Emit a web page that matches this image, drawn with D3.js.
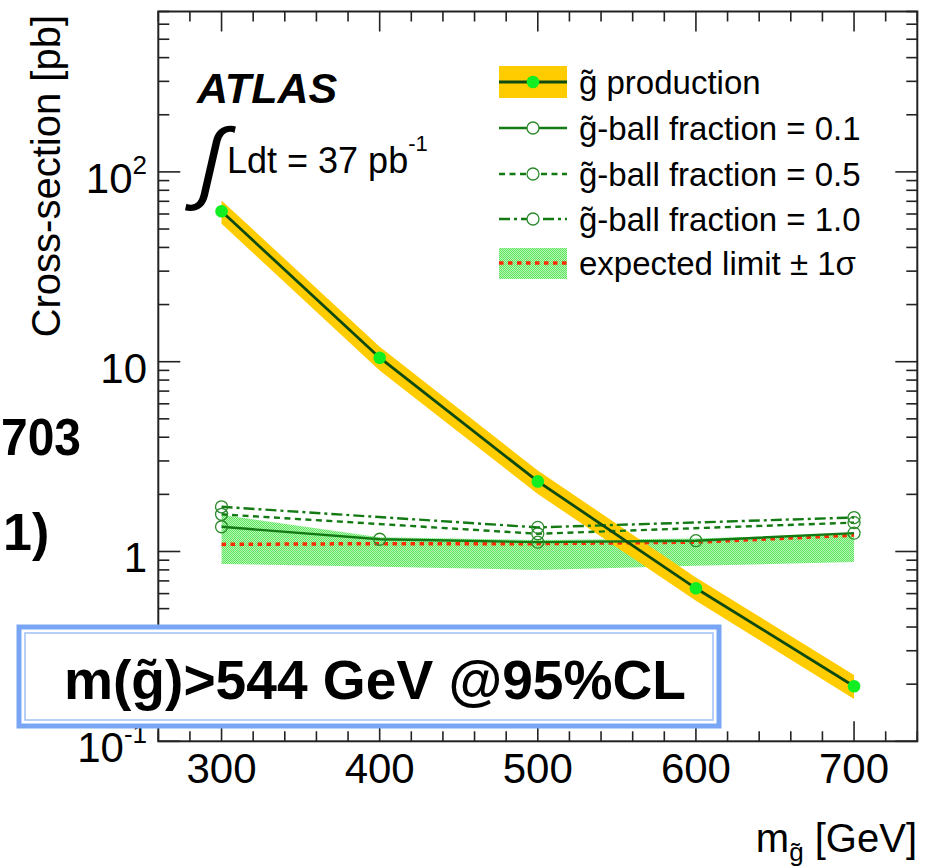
<!DOCTYPE html>
<html>
<head>
<meta charset="utf-8">
<script src="https://cdn.jsdelivr.net/npm/d3@7"></script>
<style>
  html, body { margin: 0; padding: 0; background: #fff; }
  svg { display: block; }
  text { font-family: "Liberation Sans", Arial, Helvetica, sans-serif; fill: #000; }
</style>
</head>
<body>
<script>
// Gluino pair production cross-section vs. gluino mass, with R-hadron limits
const masses = [300, 400, 500, 600, 700];
const gluinoXsec = [62, 10.5, 2.34, 0.64, 0.195];
const gluinoXsecUp = [70.7, 12.0, 2.67, 0.73, 0.2235];
const gluinoXsecDown = [53.3, 9.0, 2.01, 0.55, 0.167];

// Observed limits for different gluino-ball fractions
const ball01Masses = [300, 400, 500, 600, 700];
const ball01 = [1.35, 1.16, 1.12, 1.14, 1.25];
const ballMasses = [300, 500, 700];
const ball05 = [1.57, 1.24, 1.42];
const ball10 = [1.72, 1.34, 1.51];

// Expected limit with its +-1 sigma band
const expected = [1.09, 1.10, 1.10, 1.12, 1.22];
const expectedUp = [1.56, 1.19, 1.15, 1.17, 1.24];
const expectedDown = [0.86, 0.83, 0.80, 0.84, 0.88];

// Axis ticks
const xTicks = [300, 400, 500, 600, 700];
const yMajorTicks = [0.1, 1, 10, 100];
const yTickBase = ["10", "1", "10", "10"];
const yTickSup = ["-1", "", "", "2"];

const W = 928, H = 868;
const svg = d3.select("body").append("svg").attr("width", W).attr("height", H);

const defs = svg.append("defs");
const pat = defs.append("pattern").attr("id", "bandFill")
  .attr("width", 2).attr("height", 2).attr("patternUnits", "userSpaceOnUse");
pat.append("rect").attr("width", 2).attr("height", 2).attr("fill", "#b6f9b6");
pat.append("rect").attr("width", 1).attr("height", 1).attr("fill", "#5fe35f");
pat.append("rect").attr("x", 1).attr("y", 1).attr("width", 1).attr("height", 1).attr("fill", "#5fe35f");

const frame = { left: 158.3, right: 917.3, top: 11.5, bottom: 741.3 };
const x = d3.scaleLinear().domain([260, 740]).range([frame.left, frame.right]);
const y = d3.scaleLog().domain([0.1, 700]).range([frame.bottom, frame.top]);

const plot = svg.append("g");

// expected +-1 sigma band
const bandArea = d3.area()
  .x((d, i) => x(masses[i]))
  .y0((d, i) => y(expectedDown[i]))
  .y1((d, i) => y(expectedUp[i]));
plot.append("path").datum(masses).attr("d", bandArea).attr("fill", "url(#bandFill)");

// gluino production uncertainty band
const xsArea = d3.area()
  .x((d, i) => x(masses[i]))
  .y0((d, i) => y(gluinoXsecDown[i]))
  .y1((d, i) => y(gluinoXsecUp[i]));
plot.append("path").datum(masses).attr("d", xsArea).attr("fill", "#ffcc00");

// expected limit
const line = (xs, ys) => d3.line().x((d, i) => x(xs[i])).y((d, i) => y(ys[i]))(xs);
plot.append("path").attr("d", line(masses, expected))
  .attr("fill", "none").attr("stroke", "#ff2a00").attr("stroke-width", 3.5)
  .attr("stroke-dasharray", "4.5,4.5");

// gluino-ball fraction limits
const ballColor = "#137a13";
const ballSeries = [
  { xs: ball01Masses, ys: ball01, dash: null },
  { xs: ballMasses, ys: ball05, dash: "6,4.5" },
  { xs: ballMasses, ys: ball10, dash: "11,4,3,4" }
];
ballSeries.forEach(s => {
  plot.append("path").attr("d", line(s.xs, s.ys))
    .attr("fill", "none").attr("stroke", ballColor).attr("stroke-width", 2.4)
    .attr("stroke-dasharray", s.dash);
  plot.selectAll(null).data(s.xs).enter().append("circle")
    .attr("cx", d => x(d)).attr("cy", (d, i) => y(s.ys[i])).attr("r", 6)
    .attr("fill", "none").attr("stroke", "#2a8a2a").attr("stroke-width", 1.3);
});

// gluino production
plot.append("path").attr("d", line(masses, gluinoXsec))
  .attr("fill", "none").attr("stroke", "#0d4a12").attr("stroke-width", 2.8);
plot.selectAll(null).data(masses).enter().append("circle")
  .attr("cx", d => x(d)).attr("cy", (d, i) => y(gluinoXsec[i])).attr("r", 6.3)
  .attr("fill", "#11ee22");

// frame and ticks
const axisColor = "#222";
const ax = svg.append("g").attr("stroke", axisColor).attr("stroke-width", 1.6);
ax.append("rect").attr("x", frame.left).attr("y", frame.top)
  .attr("width", frame.right - frame.left).attr("height", frame.bottom - frame.top)
  .attr("fill", "none").attr("stroke-width", 2);

const xMinor = d3.range(260, 741, 20);
xMinor.forEach(v => {
  const len = v % 100 === 0 ? 20 : 10;
  ax.append("line").attr("x1", x(v)).attr("x2", x(v)).attr("y1", frame.bottom).attr("y2", frame.bottom - len);
  ax.append("line").attr("x1", x(v)).attr("x2", x(v)).attr("y1", frame.top).attr("y2", frame.top + len);
});
const yAll = [];
[0.1, 1, 10, 100].forEach(dec => { for (let k = 1; k <= 9; k++) { const v = dec * k; if (v <= 700) yAll.push({ v, major: k === 1 }); } });
yAll.forEach(t => {
  const len = t.major ? 22 : 11;
  ax.append("line").attr("x1", frame.left).attr("x2", frame.left + len).attr("y1", y(t.v)).attr("y2", y(t.v));
  ax.append("line").attr("x1", frame.right).attr("x2", frame.right - len).attr("y1", y(t.v)).attr("y2", y(t.v));
});

// tick labels
svg.append("g").selectAll("text").data(xTicks).enter().append("text")
  .attr("x", d => x(d)).attr("y", frame.bottom + 42)
  .attr("text-anchor", "middle").attr("font-size", 42).text(d => d);

yMajorTicks.forEach((v, i) => {
  const t = svg.append("text").attr("x", 147).attr("y", y(v) + 21)
    .attr("text-anchor", "end").attr("font-size", 42);
  t.append("tspan").text(yTickBase[i]);
  if (yTickSup[i]) t.append("tspan").attr("font-size", 26).attr("dy", -19).text(yTickSup[i]);
});

// axis titles
const xt = svg.append("text").attr("x", 917).attr("y", 852).attr("text-anchor", "end").attr("font-size", 40);
xt.append("tspan").text("m");
xt.append("tspan").attr("font-size", 26).attr("dy", 9).text("g\u0303");
xt.append("tspan").attr("dy", -9).text(" [GeV]");

svg.append("text").attr("transform", "translate(60,15) rotate(-90)")
  .attr("text-anchor", "end").attr("font-size", 40).text("Cross-section [pb]");

// ATLAS label and luminosity
svg.append("text").attr("x", 197).attr("y", 103).attr("font-size", 43)
  .attr("font-weight", "bold").attr("font-style", "italic").text("ATLAS");
svg.append("text").attr("transform", "translate(211,166) skewX(-13) scale(0.95,1)")
  .attr("x", 0).attr("y", 26).attr("text-anchor", "middle").attr("font-size", 90)
  .attr("font-family", "Liberation Serif, serif").text("\u222B");
const lum = svg.append("text").attr("x", 227).attr("y", 173).attr("font-size", 36);
lum.append("tspan").text("Ldt = 37 pb");
lum.append("tspan").attr("font-size", 22).attr("dy", -22).text("-1");

// legend
const legendLabels = ["g\u0303 production", "g\u0303-ball fraction = 0.1", "g\u0303-ball fraction = 0.5", "g\u0303-ball fraction = 1.0", "expected limit \u00B1 1\u03C3"];
const legendRowY = [82, 128, 174, 219, 263];
const lg = svg.append("g");
const lx0 = 499, lx1 = 567, lxc = 533;
legendLabels.forEach((lab, i) => {
  const cy = legendRowY[i];
  if (i === 0) {
    lg.append("rect").attr("x", lx0).attr("y", cy - 16).attr("width", lx1 - lx0).attr("height", 32).attr("fill", "#ffcc00");
    lg.append("line").attr("x1", lx0).attr("x2", lx1).attr("y1", cy).attr("y2", cy).attr("stroke", "#0d4a12").attr("stroke-width", 2.8);
    lg.append("circle").attr("cx", lxc).attr("cy", cy).attr("r", 6.3).attr("fill", "#11ee22");
  } else if (i <= 3) {
    const s = ballSeries[i - 1];
    lg.append("line").attr("x1", lx0).attr("x2", lx1).attr("y1", cy).attr("y2", cy)
      .attr("stroke", ballColor).attr("stroke-width", 2.4).attr("stroke-dasharray", s.dash);
    lg.append("circle").attr("cx", lxc).attr("cy", cy).attr("r", 6).attr("fill", "#fff")
      .attr("stroke", "#2a8a2a").attr("stroke-width", 1.3);
  } else {
    lg.append("rect").attr("x", lx0).attr("y", cy - 15).attr("width", lx1 - lx0).attr("height", 31).attr("fill", "url(#bandFill)");
    lg.append("line").attr("x1", lx0).attr("x2", lx1).attr("y1", cy).attr("y2", cy)
      .attr("stroke", "#ff2a00").attr("stroke-width", 3.5).attr("stroke-dasharray", "4.5,4.5");
  }
  lg.append("text").attr("x", 579).attr("y", cy + 12).attr("font-size", 33).text(lab);
});

// slide text at the left edge
svg.append("text").attr("x", 1).attr("y", 455)
  .attr("font-family", "Lato, sans-serif").attr("font-weight", "bold").attr("font-size", 52)
  .attr("textLength", 80).attr("lengthAdjust", "spacingAndGlyphs").text("703");
svg.append("text").attr("x", 3).attr("y", 550)
  .attr("font-family", "Lato, sans-serif").attr("font-weight", "bold").attr("font-size", 52).text("1)");

// mass limit callout
const box = svg.append("g");
box.append("rect").attr("x", 19).attr("y", 627).attr("width", 700).attr("height", 99)
  .attr("fill", "#fff").attr("stroke", "#78a6f4").attr("stroke-width", 5);
box.append("rect").attr("x", 25).attr("y", 633).attr("width", 688).attr("height", 87)
  .attr("fill", "none").attr("stroke", "#9fc0f7").attr("stroke-width", 1.5);
box.append("text").attr("x", 375).attr("y", 699).attr("text-anchor", "middle")
  .attr("font-family", "Lato, sans-serif").attr("font-weight", "bold").attr("font-size", 56)
  .attr("textLength", 622).attr("lengthAdjust", "spacingAndGlyphs")
  .text("m(g\u0303)>544 GeV @95%CL");
</script>
</body>
</html>
